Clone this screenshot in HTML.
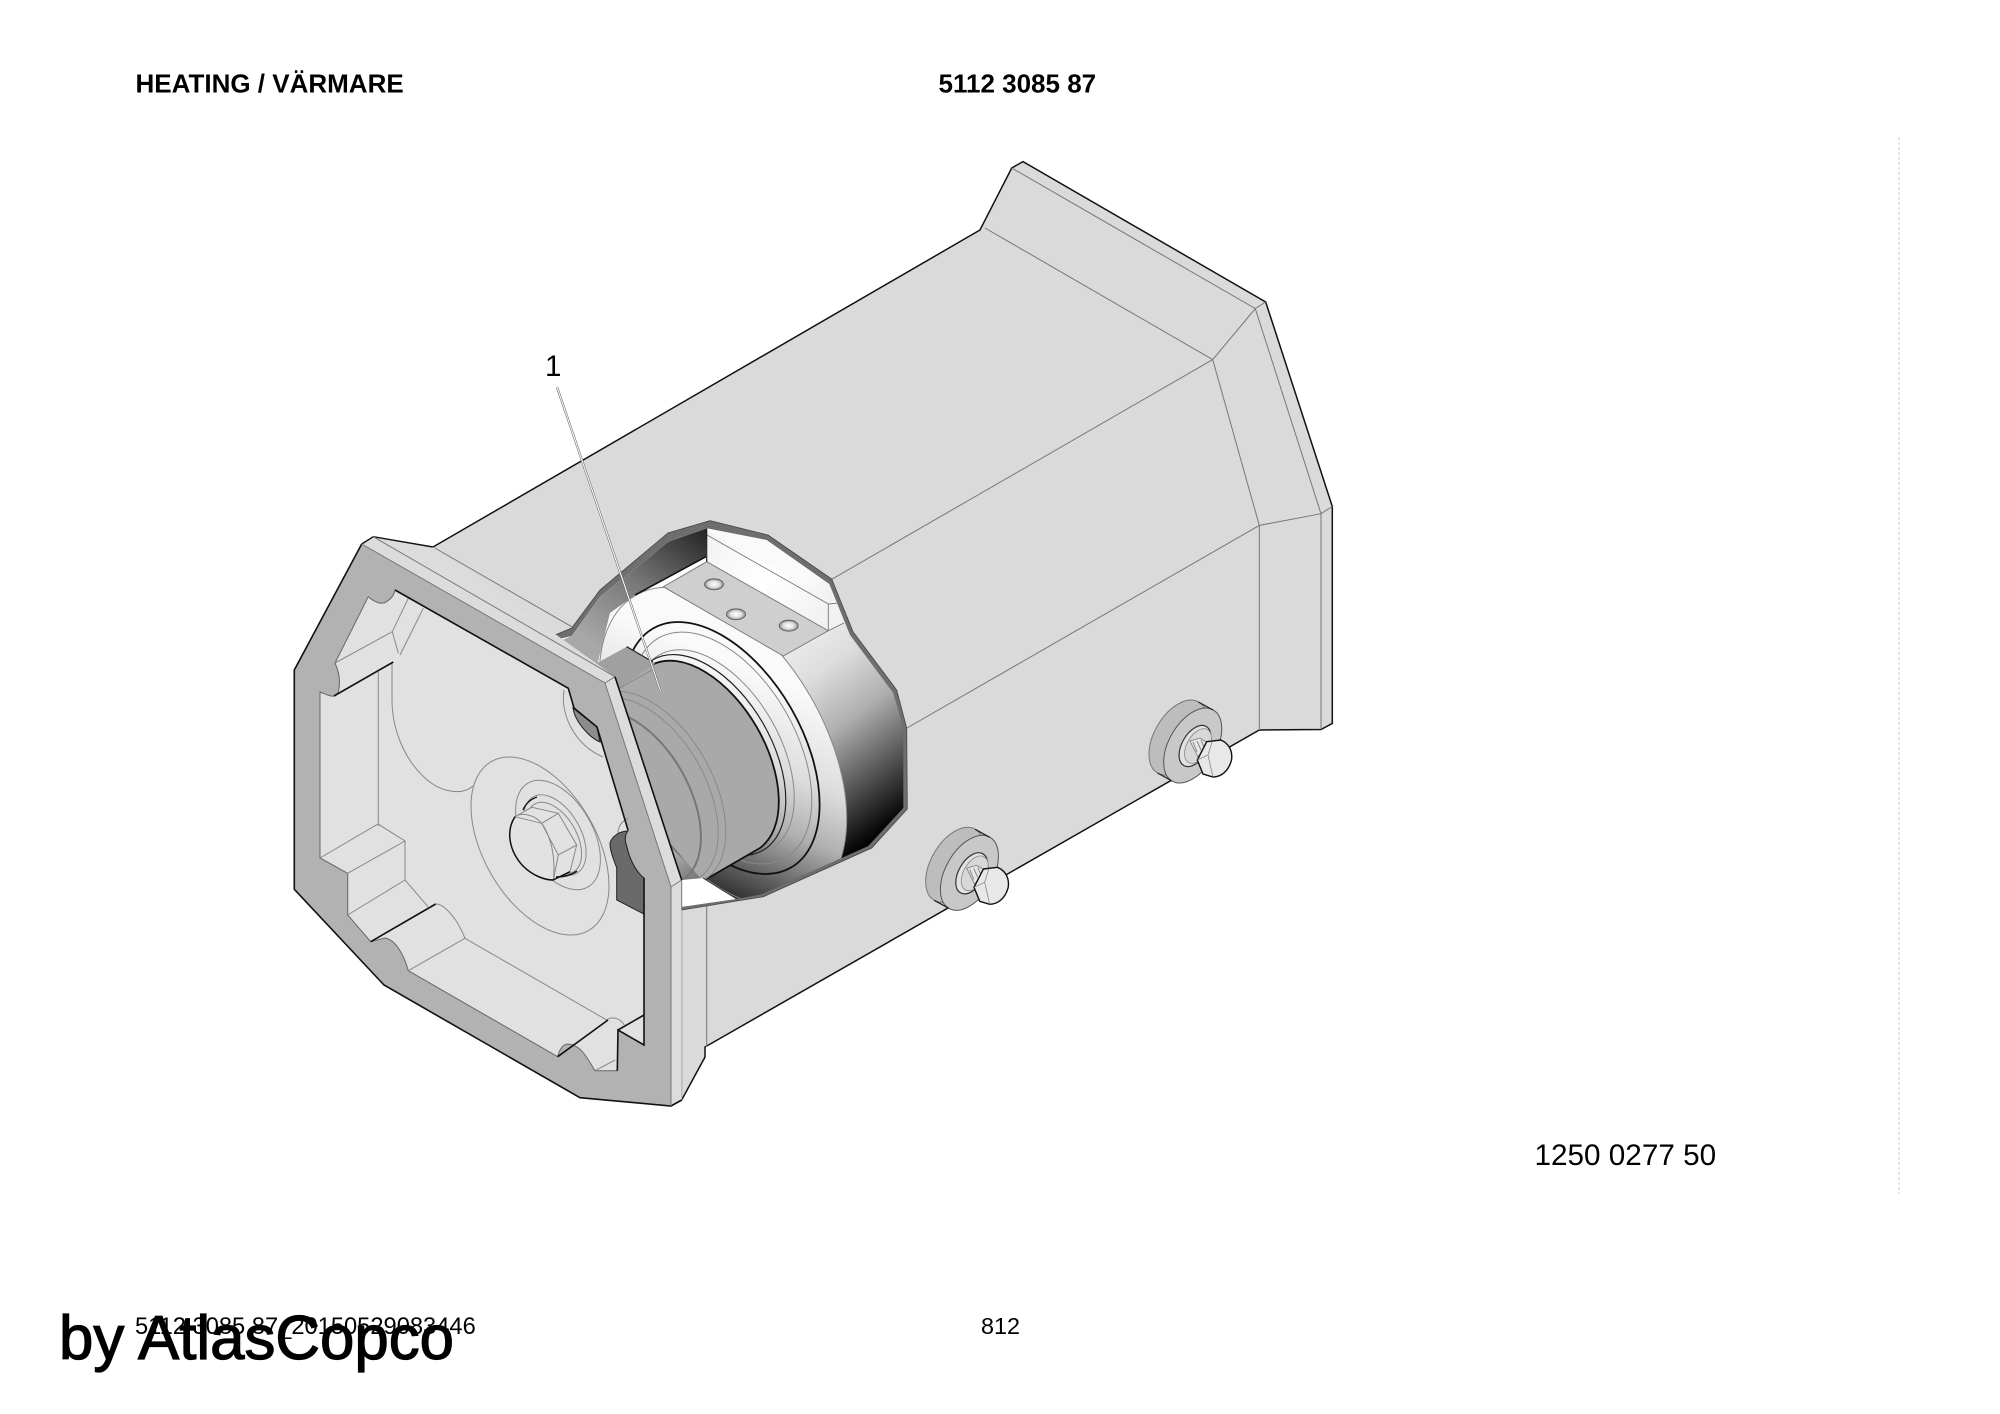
<!DOCTYPE html>
<html><head><meta charset="utf-8"><style>html,body{margin:0;padding:0;background:#fff}svg{display:block}text{font-family:"Liberation Sans",sans-serif;fill:#000}</style></head><body>
<svg width="2000" height="1414" viewBox="0 0 2000 1414" xmlns="http://www.w3.org/2000/svg">
<defs>
<linearGradient id="dg" gradientUnits="userSpaceOnUse" x1="780" y1="602" x2="930" y2="802"><stop offset="0" stop-color="#fafafa"/><stop offset=".32" stop-color="#ddd"/><stop offset=".54" stop-color="#b0b0b0"/><stop offset=".76" stop-color="#5a5a5a"/><stop offset=".96" stop-color="#0a0a0a"/><stop offset="1" stop-color="#000"/></linearGradient>
<linearGradient id="wg" gradientUnits="userSpaceOnUse" x1="690" y1="525" x2="600" y2="650"><stop offset="0" stop-color="#2a2a2a"/><stop offset=".5" stop-color="#777"/><stop offset="1" stop-color="#a8a8a8"/></linearGradient>
<linearGradient id="bg" gradientUnits="userSpaceOnUse" x1="700" y1="540" x2="830" y2="620"><stop offset="0" stop-color="#f2f2f2"/><stop offset=".5" stop-color="#fff"/><stop offset="1" stop-color="#f0f0f0"/></linearGradient>
<radialGradient id="hg"><stop offset="0" stop-color="#fff"/><stop offset=".6" stop-color="#ddd"/><stop offset="1" stop-color="#888"/></radialGradient>
<clipPath id="ci"><path d="M551.7,640.7 571.7,636 600,596.7 668.3,541.7 706.7,528.3 766.7,540 829.3,584 850,635 893.3,693 903.3,728 903.3,808 868.3,846 762,894 737,899 681.7,907 600,800Z"/></clipPath>
<g id="b">
<path d="M1198.5,702 1213,710 1172,781 1157.5,773Z" fill="#bdbdbd"/>
<ellipse cx="1178" cy="737.5" rx="41" ry="23.7" transform="rotate(120 1178 737.5)" fill="#bdbdbd" stroke="#777" stroke-width="1"/>
<ellipse cx="1192.7" cy="745.5" rx="41" ry="23.7" transform="rotate(120 1192.7 745.5)" fill="#c8c8c8" stroke="#555" stroke-width="1"/>
<path d="M1198.5,702 1213,710M1157.5,773 1172,781" stroke="#222" stroke-width="1.2"/>
<ellipse cx="1195" cy="746" rx="22.5" ry="13" transform="rotate(120 1195 746)" fill="#e2e2e2" stroke="#333" stroke-width="1.2"/>
<ellipse cx="1198" cy="746" rx="19" ry="11" transform="rotate(120 1198 746)" fill="#d8d8d8" stroke="#888" stroke-width=".8"/>
<path d="M1190,741 1200,738 1208,743 1198,757Z" fill="#e6e6e6" stroke="#777" stroke-width=".8"/>
<path d="M1193,742 1197,752M1197,741 1201,750M1201,740 1204,747" stroke="#888" stroke-width="1"/>
<path d="M1206.7,741.7 L1220.7,740 C1228,743 1233,750 1231.5,760 C1229,770 1222,777 1213,777 L1203,774 L1197.3,760Z" fill="#e8e8e8" stroke="#111" stroke-width="1.4"/>
<path d="M1197.3,760 1208,755 1212,742M1208,755 1213,777" fill="none" stroke="#888" stroke-width=".8"/>
</g>
</defs>
<rect width="2000" height="1414" fill="#fff"/>
<text x="135.5" y="92.7" font-size="26" font-weight="700">HEATING / VÄRMARE</text>
<text x="938.5" y="92.7" font-size="26" font-weight="700">5112 3085 87</text>
<line x1="1899" y1="137" x2="1899" y2="1194" stroke="#ddd" stroke-width="1.5" stroke-dasharray="3 2"/>

<!-- body -->
<path d="M433,547 980,230 1011.7,168 1023,161.6 1265.7,302 1332.3,506.5 1332.3,723.4 1321,729.5 1259.3,730 705,1047 705,1057 681.7,1100 671,1106 500,900Z" fill="#dadada"/>
<path d="M433,547 980,230 1011.7,168 1023,161.6 1265.7,302 1332.3,506.5 1332.3,723.4 1321,729.5 1259.3,730 705,1047 705,1057 681.7,1100 671,1106" fill="none" stroke="#111" stroke-width="1.5"/>
<g fill="none" stroke="#777" stroke-width="1">
<path d="M985,228 1212.7,359.6 1255.3,308.6 1011.7,168"/>
<path d="M1255.3,308.6 1265.7,302M1212.7,359.6 1259.3,525.4 1321,513.7 1332.3,506.5M1255.3,308.6 1321,513.7 1321,729.5M1259.3,525.4 1259.3,730"/>
<path d="M1212.7,359.6 831.7,579.3M1259.3,525.4 907,728M433,547 571.7,626.7M706.7,905 706.7,1047M681.7,905 681.7,1100"/>
</g>
<!-- window rim -->
<path d="M548,638 571.7,628 600,590 668,533 710,520.7 768,535 831.7,579 853,631.7 896.7,690 906.7,728 907.3,809 871.7,848 763.3,896.7 681.7,910 600,800Z" fill="#6e6e6e" stroke="#444" stroke-width=".8"/>
<!-- interior -->
<path d="M551.7,640.7 571.7,636 600,596.7 668.3,541.7 706.7,528.3 766.7,540 829.3,584 850,635 893.3,693 903.3,728 903.3,808 868.3,846 762,894 737,899 681.7,907 600,800Z" fill="url(#dg)"/>
<g clip-path="url(#ci)">
<path d="M540,650 571.7,636 600,596.7 668.3,541.7 706.7,528.3 706,556.7 635,595 610,613 598,662 590,680Z" fill="url(#wg)"/>
<path d="M706.7,561.7 663,586.7 635,596 706,556.7Z" fill="#fff"/>
<ellipse cx="723" cy="747" rx="175" ry="101" transform="rotate(60 723 747)" fill="url(#dg)" stroke="#888" stroke-width="1"/>
<path d="M707.3,530 836.7,603.3 828.3,604 828.3,630.7 706.7,561.7Z" fill="url(#bg)"/>
<path d="M828.3,604 836.7,603.3 844,623 828.3,630.7Z" fill="#f2f2f2"/>
<path d="M706.7,561.7 828.3,630.7 783.3,656 663.3,586.7Z" fill="#cfcfcf"/>
<path d="M706.7,561.7 828.3,630.7 783.3,656 663.3,586.7Z M707,535 828.3,604 828.3,630.7M828.3,604 836.7,603.3M828.3,630.7 844,623" fill="none" stroke="#777" stroke-width=".9"/>
<path d="M706.7,528 706.7,561.7" stroke="#222" stroke-width="1.2"/>
<path d="M706,556.7 635,595" stroke="#111" stroke-width="1.6"/>
<ellipse cx="722" cy="748" rx="127" ry="73.3" transform="rotate(60 722 748)" fill="none" stroke="#888" stroke-width="1"/>
<ellipse cx="715" cy="752" rx="112" ry="64.7" transform="rotate(60 715 752)" fill="none" stroke="#888" stroke-width="1"/>
<ellipse cx="722" cy="748" rx="138" ry="79.7" transform="rotate(60 722 748)" fill="none" stroke="#111" stroke-width="1.8"/>
<ellipse cx="708" cy="755" rx="110" ry="63.5" transform="rotate(60 708 755)" fill="none" stroke="#222" stroke-width="1.2"/>
<!-- cylinder -->
<path d="M653.5,664 A106.5,61.5 60 0 1 760,848 L703,881 596.5,760 596.5,697Z" fill="#a9a9a9"/>
<path d="M653.5,664 A106.5,61.5 60 0 1 760,848 L703,881" fill="none" stroke="#111" stroke-width="1.8"/>
<ellipse cx="651" cy="788" rx="106" ry="61" transform="rotate(60 651 788)" fill="none" stroke="#8a8a8a" stroke-width="1"/>
<ellipse cx="646" cy="791" rx="102" ry="59" transform="rotate(60 646 791)" fill="none" stroke="#8a8a8a" stroke-width="1"/>
<ellipse cx="633" cy="798" rx="96" ry="55.5" transform="rotate(60 633 798)" fill="none" stroke="#777" stroke-width="2"/>
<path d="M596.7,663.3 626.7,646.7 655,663.3 620,688 596,705Z" fill="#a0a0a0"/>
<path d="M620,688 652,670" stroke="#888" stroke-width=".9"/>
<path d="M626.7,646.7 653,662" stroke="#222" stroke-width="1.2" fill="none"/>
<path d="M681.7,880 703,878 736.7,899 737,899 681.7,907Z" fill="#fff"/>
<path d="M703,878 736.7,899" stroke="#333" stroke-width="1"/>
</g>
<ellipse cx="714" cy="584.3" rx="9.5" ry="5.5" fill="url(#hg)" stroke="#555" stroke-width=".8"/>
<ellipse cx="736" cy="614.3" rx="9.5" ry="5.5" fill="url(#hg)" stroke="#555" stroke-width=".8"/>
<ellipse cx="788.7" cy="625.7" rx="9.5" ry="5.5" fill="url(#hg)" stroke="#555" stroke-width=".8"/>

<!-- flange strip + frame -->
<path d="M373.3,536.7 433,547 615,676.7 681.7,880 681.7,1100 671,1106 660,1000 605,683 361.7,544Z" fill="#dcdcdc"/>
<path d="M361.7,544 294.3,670 294.3,889.3 384,985 580,1097.7 671,1106 671,887 605,683Z" fill="#b2b2b2"/>
<path d="M361.7,544 294.3,670 294.3,889.3 384,985 580,1097.7 671,1106 681.7,1100" fill="none" stroke="#111" stroke-width="1.6"/>
<path d="M361.7,544 373.3,536.7 433,547" fill="none" stroke="#111" stroke-width="1.4"/>
<path d="M361.7,544 605,683 671,887 671,1106M373.3,536.7 615,676.7M605,683 615,676.7M671,887 681.7,880" fill="none" stroke="#777" stroke-width="1"/>
<path d="M615,676.7 681.7,880" fill="none" stroke="#111" stroke-width="1.6"/>
<path d="M681.7,880 681.7,910" fill="none" stroke="#777" stroke-width="1"/>

<!-- floor -->
<path id="h" d="M320,692 C326,694 330,697 334,696 L338,693 C341,683 339,672 335,663 L368.3,596.7 C372,600 378,604 384,603 C390,600 394,596 395,590 L568.3,688.3 L574,708 L597,727 L628,830 C624,836 625,842 627,847 C629,858 636,872 644,878 L644,1045 L618,1030 L617.3,1070.7 L595,1070.7 C588,1060 582,1045 568,1044 C563,1044 559,1050 557.7,1056.7 L408.3,970.7 C404,955 396,940 385,938 L370.7,941.7 L347.7,915 L347.7,873.3 L320,858 Z" fill="#e1e1e1" stroke="#666" stroke-width="1"/>
<path d="M573,708 C575,722 590,738 600,742 L597,727Z" fill="#8c8c8c" stroke="#222" stroke-width="1"/>
<g fill="none" stroke="#888" stroke-width="1">
<path d="M564,690 C560,715 575,745 603,757"/>
<path d="M335,663 392.3,631.7 398.3,653.3M368.3,596.7 M408.3,598.3 392.3,631.7M423.3,608.3 400,655"/>
<path d="M378.3,671.7 378.3,826"/>
<path d="M392,663 L392,700 C392,730 405,760 425,778 C440,792 462,796 473,786"/>
<path d="M320,858 378,824 405,841 347.7,873.3M405,841 405,880 347.7,915M405,880 428,906.7"/>
<path d="M435.7,904 C445,904 458,920 465,938.3 L408.3,970.7M465,938.3 L606.7,1020 C612,1016 620,1018 624.3,1025M595,1070.7 615,1060"/>
<path d="M628,818 C620,822 617,830 618,836"/>
<ellipse cx="540" cy="846" rx="97.5" ry="56.4" transform="rotate(60 540 846)"/>
<ellipse cx="558" cy="835" rx="60" ry="34.6" transform="rotate(60 558 835)"/>
<ellipse cx="554" cy="838" rx="39" ry="22.5" transform="rotate(60 554 838)"/>
<ellipse cx="555" cy="835" rx="44" ry="25.4" transform="rotate(60 555 835)"/>
</g>
<path d="M628,831 C620,831 612,836 610,843 C610,852 614,860 616.7,868 L616.7,900 L644,914 L644,878 C636,872 629,858 627,847 C625,842 624,836 628,831Z" fill="#6a6a6a" stroke="#222" stroke-width="1"/>
<g fill="none" stroke="#111" stroke-width="1.6">
<path d="M334,696 393.3,662M395,590 568.3,688.3 574,708 597,727 628,830M644,878 644,1045 618,1030 617.3,1070.7M618,1030 644,1015M370.7,941.7 435.7,904M557.7,1056.7 608,1020"/>
</g>
<!-- bolt -->
<path d="M515,816.7 531.7,807.3 558.3,813.3 576.7,845 570,871.7 553.3,880Z" fill="#e2e2e2" stroke="#888" stroke-width="1"/>
<path d="M515,816.7 C522,812 535,815 541.7,823.3 C550,835 556,855 553.3,880 C545,880 533,876 523,866 C510,852 505,832 515,816.7Z" fill="#e2e2e2" stroke="#888" stroke-width="1"/>
<path d="M541.7,823.3 558.3,813.3M541.7,823.3 558.3,855 576.7,845M558.3,855 553.3,880M515,816.7 541.7,823.3" fill="none" stroke="#888" stroke-width="1"/>
<path d="M515,816.7 C505,832 510,852 523,866 C533,876 545,880 553,880 L570,871.7" fill="none" stroke="#111" stroke-width="1.5"/>
<path d="M523,810 C526,803 531,799 537,797M556,877 C562,877 570,876 577,871" fill="none" stroke="#111" stroke-width="1.4"/>

<use href="#b"/>
<use href="#b" transform="translate(-223.3,127.3)"/>

<!-- leader -->
<line x1="557" y1="387" x2="660.5" y2="691" stroke="#666" stroke-width="2.2"/>
<line x1="557" y1="387" x2="660.5" y2="691" stroke="#fff" stroke-width="1.1"/>
<text x="545" y="376" font-size="29.5">1</text>
<text x="1534.5" y="1165" font-size="29.7">1250 0277 50</text>
<text x="135" y="1334" font-size="23.7">5112 3085 87_20150529083446</text>
<text x="981" y="1334" font-size="23.4">812</text>
<text x="59" y="1359" font-size="61.8" stroke="#000" stroke-width="1.2" style="stroke:#000">by AtlasCopco</text>
</svg>
</body></html>
